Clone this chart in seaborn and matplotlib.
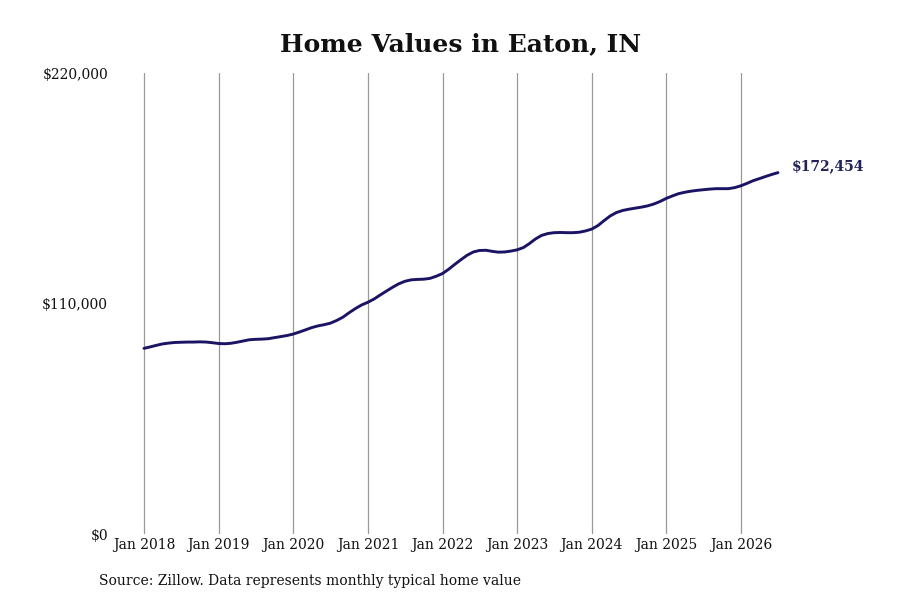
import matplotlib
matplotlib.use("Agg")
import matplotlib.pyplot as plt
import matplotlib.dates as mdates
import seaborn as sns
import pandas as pd
import numpy as np

# ---- data (thousands of USD, monthly, Jan 2018 - Jul 2026) ----
v2018 = [88.6, 89.3, 90.0, 90.7, 91.1, 91.4, 91.5, 91.6, 91.6, 91.7, 91.6, 91.3]
v2019 = [90.9, 90.8, 91.0, 91.5, 92.1, 92.7, 92.9, 93.0, 93.2, 93.7, 94.2, 94.7]
v2020 = [95.4, 96.4, 97.4, 98.5, 99.3, 99.9, 100.6, 101.9, 103.5, 105.6, 107.6, 109.3]
v2021 = [110.6, 112.2, 114.0, 115.9, 117.7, 119.4, 120.6, 121.3, 121.5, 121.6, 122.0, 123.0]
v2022 = [124.3, 126.4, 128.6, 130.9, 133.0, 134.6, 135.3, 135.4, 134.9, 134.5, 134.6, 135.0]
v2023 = [135.6, 136.7, 138.5, 140.8, 142.5, 143.4, 143.8, 143.9, 143.8, 143.8, 144.0, 144.6]
v2024 = [145.5, 147.2, 149.5, 151.8, 153.4, 154.4, 155.0, 155.5, 156.0, 156.6, 157.5, 158.7]
v2025 = [160.2, 161.4, 162.4, 163.1, 163.6, 164.0, 164.3, 164.6, 164.8, 164.8, 164.8, 165.3]
v2026 = [166.2, 167.4, 168.6, 169.6, 170.6, 171.6, 172.454]

values = [x * 1000 for x in v2018 + v2019 + v2020 + v2021 + v2022 + v2023 + v2024 + v2025 + v2026]
dates = pd.date_range("2018-01-01", periods=len(values), freq="MS")
df = pd.DataFrame({"date": dates, "value": values})

years = list(range(2018, 2027))
y_ticks = [0, 110000, 220000]
y_labels = ["$0", "$110,000", "$220,000"]
title = "Home Values in Eaton, IN"
source = "Source: Zillow. Data represents monthly typical home value"
last_label = "$172,454"

sns.set_theme(style="white")
plt.rcParams["font.family"] = ["DejaVu Serif"]

fig = plt.figure(figsize=(9, 6), dpi=100)
W, H = 900, 600
left_px, right_px, top_px, bottom_px = 115, 790, 73, 534
ax = fig.add_axes([left_px / W, 1 - bottom_px / H, (right_px - left_px) / W, (bottom_px - top_px) / H])

line_color = "#1b1464"
sns.lineplot(data=df, x="date", y="value", ax=ax, color=line_color, linewidth=2.1)

# x limits so Jan 2018 lands at x=144 px and Jul 2026 at ~778 px
d0 = mdates.date2num(pd.Timestamp("2018-01-01"))
d1 = mdates.date2num(pd.Timestamp("2026-07-01"))
px_per_day = (778 - 144) / (d1 - d0)
ax.set_xlim(d0 - (144 - left_px) / px_per_day, d1 + (right_px - 778) / px_per_day)
ax.set_ylim(0, 220000)

xt = [pd.Timestamp(f"{y}-01-01") for y in years]
ax.set_xticks(xt)
ax.set_xticklabels([f"Jan {y}" for y in years], fontsize=10)
ax.set_yticks(y_ticks)
ax.set_yticklabels(y_labels, fontsize=10)
ax.tick_params(axis="x", length=0, pad=3, colors="#111111")
ax.tick_params(axis="y", length=0, pad=5, colors="#111111")
ax.set_xlabel("")
ax.set_ylabel("")

ax.grid(False)
for t in xt:
    ax.axvline(t, color="#999999", linewidth=0.9, zorder=0)
for s in ax.spines.values():
    s.set_visible(False)

ax.annotate(last_label, xy=(df["date"].iloc[-1], df["value"].iloc[-1]),
            xytext=(10, 4.5), textcoords="offset points",
            fontsize=10, fontweight="bold", color="#22225a", va="center", ha="left",
            annotation_clip=False)

fig.text(461 / W, 1 - 44 / H, title, ha="center", va="center",
         fontsize=18, fontweight="bold", color="#111111")
fig.text(99 / W, 1 - 581 / H, source, ha="left", va="center", fontsize=10, color="#111111")

fig.savefig("out.png", dpi=100)
